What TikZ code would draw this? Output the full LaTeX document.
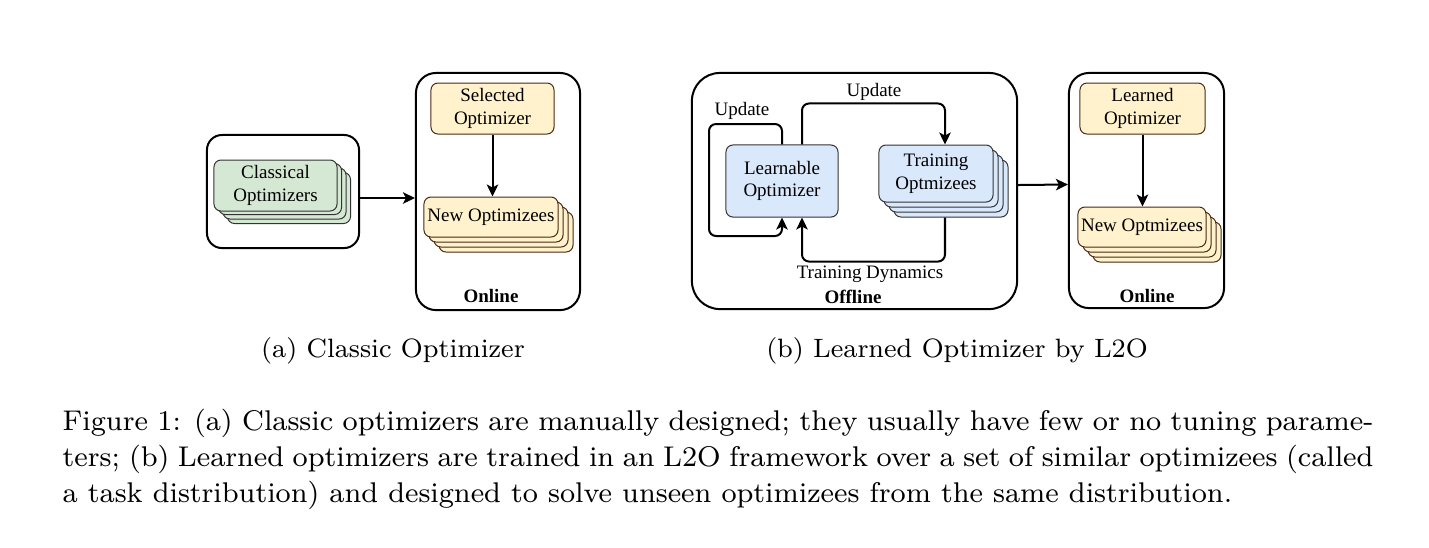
\documentclass[tikz,border=0pt]{standalone}
\usepackage{fontspec}
\usepackage{tikz}
\usetikzlibrary{arrows.meta, positioning}
\newfontfamily\boxfont{Liberation Serif}
\definecolor{drawgreen}{HTML}{D5E8D4}
\definecolor{drawyellow}{HTML}{FFF2CC}
\definecolor{drawblue}{HTML}{DAE8FC}
\definecolor{edgebrown}{HTML}{4A2810}
\definecolor{edgegrey}{HTML}{333333}

\begin{document}
\begin{tikzpicture}[
    x=0.01cm, y=-0.01cm,
    frame/.style={rectangle, draw=black, line width=0.02cm, rounded corners=0.2cm, inner sep=0pt},
    block/.style={rectangle, line width=0.01cm, rounded corners=0.07cm, inner sep=0pt, align=center, font=\boxfont\fontsize{5.4}{6.4}\selectfont},
    gblock/.style={block, draw=edgegrey, fill=drawgreen, minimum width=1.23cm, minimum height=0.51cm},
    yblock/.style={block, draw=edgebrown, fill=drawyellow},
    bblock/.style={block, draw=edgegrey, fill=drawblue},
    note/.style={font=\boxfont\fontsize{5.4}{6.4}\selectfont},
    tag/.style={font=\boxfont\bfseries\fontsize{5.4}{6.4}\selectfont},
    arrow/.style={-{Stealth[length=0.12cm, width=0.115cm, inset=0.03cm]}, line width=0.02cm},
    loop/.style={arrow, rounded corners=0.07cm}
]
    \useasboundingbox (0,0) rectangle (1429,547);

    % (a) Pool of classical optimizers
    \node[frame, minimum width=1.52cm, minimum height=1.13cm, rounded corners=0.15cm] (pool) at (283,191.5) {};
    \node[gblock] (cls3) at (289,198) {};
    \node[gblock] (cls2) at (284.5,193.5) {};
    \node[gblock] (cls1) at (280,189) {};
    \node[gblock] (cls) at (275.5,185.5) {Classical\\Optimizers};

    % (a) Online
    \node[frame, minimum width=1.64cm, minimum height=2.37cm] (onA) at (498,191.5) {};
    \node[yblock, minimum width=1.23cm, minimum height=0.51cm] (sel) at (492.5,108.5) {Selected\\Optimizer};
    \node[yblock, minimum width=1.34cm, minimum height=0.40cm] (newA3) at (506,232) {};
    \node[yblock, minimum width=1.34cm, minimum height=0.40cm] (newA2) at (501,227) {};
    \node[yblock, minimum width=1.34cm, minimum height=0.40cm] (newA1) at (496,222) {};
    \node[yblock, minimum width=1.34cm, minimum height=0.40cm] (newA) at (491,217) {New Optimizees};
    \node[tag] (onAt) at (491,296) {Online};

    % (a) Arrows
    \draw[arrow] (pool.east |- cls3) -- (onA.west |- cls3);
    \draw[arrow] (sel) -- (sel |- newA.north);

    % (b) Offline training
    \node[frame, minimum width=3.25cm, minimum height=2.36cm, rounded corners=0.28cm] (off) at (854.5,191) {};
    \node[bblock, minimum width=1.12cm, minimum height=0.72cm] (learn) at (782,181) {Learnable\\Optimizer};
    \node[bblock, minimum width=1.14cm, minimum height=0.57cm] (tr3) at (951,188.5) {};
    \node[bblock, minimum width=1.14cm, minimum height=0.57cm] (tr2) at (946,183.5) {};
    \node[bblock, minimum width=1.14cm, minimum height=0.57cm] (tr1) at (941,178.5) {};
    \node[bblock, minimum width=1.14cm, minimum height=0.57cm] (train) at (936,173.5) {Training\\Optmizees};
    \node[tag] (offt) at (853,297) {Offline};

    % (b) Update and feedback loops
    \draw[loop] (learn.north) |- (709,124) -- (709,236) -| (learn.south);
    \node[note] (upd1) at (742,111) {Update};
    \draw[loop] ([xshift=0.2cm]learn.north) -- ++(0,-41) -| ([xshift=0.09cm]train.north);
    \node[note] (upd2) at (874,92) {Update};
    \draw[loop] ([xshift=-0.06cm]tr3.south) -- ++(0,44) -| ([xshift=0.2cm]learn.south);
    \node[note] (dyn) at (870,274) {Training Dynamics};

    % (b) Online
    \node[frame, minimum width=1.55cm, minimum height=2.35cm] (onB) at (1146.5,190.5) {};
    \node[yblock, minimum width=1.25cm, minimum height=0.51cm] (lrn) at (1142.5,108.5) {Learned\\Optimizer};
    \node[yblock, minimum width=1.28cm, minimum height=0.40cm] (newB3) at (1157,242) {};
    \node[yblock, minimum width=1.28cm, minimum height=0.40cm] (newB2) at (1152,237) {};
    \node[yblock, minimum width=1.28cm, minimum height=0.40cm] (newB1) at (1147,232) {};
    \node[yblock, minimum width=1.28cm, minimum height=0.40cm] (newB) at (1142,227) {New Optmizees};
    \node[tag] (onBt) at (1147,296) {Online};

    % (b) Arrows
    \draw[arrow] ([yshift=0.06cm]off.east) -- ([yshift=0.06cm]onB.west);
    \draw[arrow] (lrn) -- (lrn |- newB.north);

    % Sub-captions
    \node[anchor=base, font=\fontsize{7.55}{9}\selectfont] (capa) at (393,357) {(a) Classic Optimizer};
    \node[anchor=base, font=\fontsize{7.55}{9}\selectfont] (capb) at (957,357) {(b) Learned Optimizer by L2O};

    % Figure caption
    \node[anchor=north west, inner sep=0pt, text width=13.1cm, align=justify, font=\fontsize{8.1}{10.25}\selectfont] (cap) at (62,408) {Figure 1: (a) Classic optimizers are manually designed; they usually have few or no tuning parame-\linebreak ters; (b) Learned optimizers are trained in an L2O framework over a set of similar optimizees (called\linebreak a task distribution) and designed to solve unseen optimizees from the same distribution.};
\end{tikzpicture}
\end{document}
